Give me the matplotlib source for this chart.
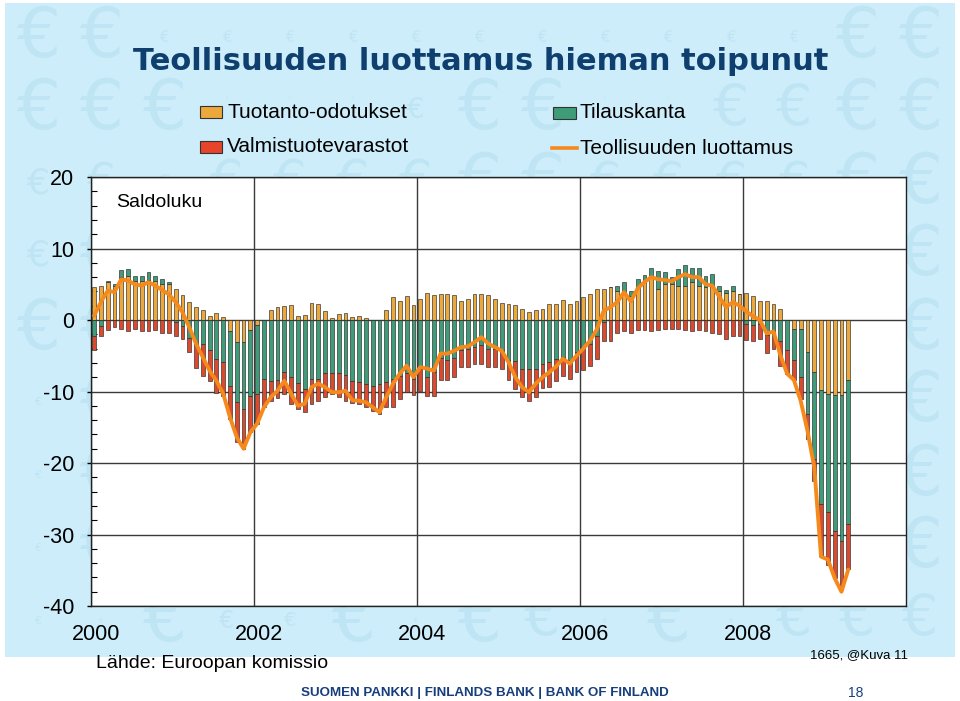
import numpy as np
import matplotlib
matplotlib.use('Agg')
import matplotlib.pyplot as plt
from matplotlib.patches import Rectangle
from matplotlib.lines import Line2D
from matplotlib.transforms import ScaledTranslation

# ---------------- data (monthly, Jan 2000 .. Apr 2009) ----------------
months = np.arange(112)

production = [4.6, 4.7, 5.3, 4.8, 6.0, 6.1, 5.4, 5.5, 5.6, 5.5, 5.0, 5.0,
              4.3, 3.5, 2.5, 1.8, 1.4, 0.6, 1.0, 0.4, -1.6, -3.1, -3.1, -1.4,
              -0.7, 0.0, 1.4, 1.8, 2.0, 2.1, 0.6, 0.7, 2.4, 2.3, 1.3, 0.3,
              0.8, 1.0, 0.4, 0.5, 0.3, 0.0, 0.0, 1.4, 3.2, 2.7, 3.3, 2.1,
              3.0, 3.8, 3.5, 3.7, 3.7, 3.5, 2.7, 2.9, 3.7, 3.6, 3.5, 2.9,
              2.4, 2.3, 2.1, 1.5, 1.1, 1.4, 1.6, 2.2, 2.3, 2.8, 2.2, 2.7,
              3.2, 3.6, 4.3, 4.3, 4.6, 4.1, 4.1, 3.4, 4.6, 5.3, 6.0, 4.3,
              5.1, 5.0, 4.8, 4.8, 5.3, 4.8, 4.6, 4.8, 4.0, 3.8, 4.1, 3.6,
              3.8, 3.3, 2.6, 2.6, 2.3, 1.5, 0.0, -1.2, -1.3, -4.5, -7.3, -9.8,
              -10.3, -10.5, -10.5, -8.4]

order_books = [-2.2, -0.8, 0.2, 0.2, 1.0, 1.0, 0.7, 0.7, 1.1, 0.6, 0.8, 0.3,
               -0.3, -0.8, -2.5, -3.4, -3.4, -4.2, -5.5, -5.9, -7.7, -8.4, -9.3, -9.2,
               -9.7, -8.3, -8.5, -8.4, -7.3, -8.0, -8.8, -9.7, -8.3, -8.2, -7.4, -7.4,
               -7.4, -7.7, -8.5, -8.7, -9.0, -9.2, -9.0, -8.7, -8.2, -7.8, -7.4, -8.3,
               -6.8, -8.0, -7.3, -5.3, -5.6, -5.3, -4.2, -4.1, -3.8, -3.5, -4.0, -4.1,
               -4.2, -5.6, -5.7, -6.8, -6.8, -6.9, -6.1, -5.9, -5.4, -5.2, -5.6, -4.5,
               -3.8, -3.4, -2.2, -0.3, 0.0, 0.7, 1.2, 0.7, 1.1, 1.0, 1.3, 2.6,
               1.6, 1.0, 2.3, 2.9, 2.0, 2.5, 1.6, 1.6, 0.8, 0.4, 0.7, 0.0,
               -0.5, -0.7, -0.5, -2.1, -1.4, -3.0, -4.2, -4.4, -6.7, -8.7, -12.2, -15.9,
               -16.6, -19.0, -20.4, -20.1]

stocks = [-2.0, -1.5, -1.4, -1.0, -1.3, -1.6, -1.2, -1.5, -1.6, -1.4, -1.8, -1.8,
          -2.0, -1.8, -2.0, -3.3, -4.4, -4.3, -4.7, -4.7, -4.5, -5.6, -5.6, -5.1,
          -4.1, -3.9, -2.8, -2.5, -3.0, -3.7, -3.6, -3.2, -3.4, -3.1, -3.4, -2.9,
          -3.4, -3.6, -3.1, -3.0, -3.1, -3.5, -4.2, -3.5, -3.9, -3.3, -2.6, -2.2,
          -3.1, -2.6, -3.3, -3.1, -2.8, -2.7, -2.4, -2.5, -2.3, -2.6, -2.6, -2.5,
          -2.6, -2.8, -3.9, -3.9, -4.5, -3.8, -3.4, -3.5, -3.1, -2.6, -2.6, -2.8,
          -3.2, -3.0, -3.2, -2.6, -2.9, -1.8, -1.6, -1.8, -1.4, -1.4, -1.5, -1.4,
          -1.2, -1.2, -1.2, -1.4, -1.5, -1.4, -1.6, -1.8, -1.9, -2.6, -2.2, -2.2,
          -2.3, -2.3, -2.1, -2.5, -2.7, -3.4, -3.4, -2.8, -3.0, -3.5, -3.0, -7.3,
          -7.3, -6.6, -6.8, -6.3]

confidence = [0.6, 2.5, 4.1, 3.9, 5.7, 5.5, 5.0, 4.8, 5.3, 4.8, 4.2, 3.6,
              2.5, 1.1, -1.0, -3.3, -5.2, -7.1, -8.5, -10.3, -13.6, -16.4, -18.0, -15.7,
              -14.5, -12.2, -10.8, -9.9, -8.5, -10.3, -12.0, -11.7, -9.4, -8.9, -9.4, -10.1,
              -10.1, -9.9, -11.2, -11.3, -11.5, -12.2, -12.9, -10.8, -8.9, -7.5, -6.4, -8.0,
              -6.6, -6.8, -7.1, -4.7, -4.7, -4.3, -3.8, -3.7, -3.1, -2.4, -3.3, -3.8,
              -4.3, -5.9, -8.0, -9.4, -10.1, -8.9, -8.0, -7.3, -6.5, -5.4, -6.1, -5.0,
              -4.0, -2.9, -1.3, 1.3, 1.8, 2.5, 3.9, 2.6, 4.4, 5.3, 6.0, 5.7,
              5.6, 5.4, 6.0, 6.4, 6.0, 6.0, 5.0, 4.8, 3.3, 1.8, 2.5, 2.0,
              1.2, 0.5, 0.0, -1.9, -1.6, -4.9, -7.5, -8.4, -11.3, -15.5, -20.6, -33.1,
              -33.5, -36.1, -38.0, -34.9]

year_labels = ['2000', '2002', '2004', '2006', '2008']
year_ticks = [0, 24, 48, 72, 96]
series_names = ['Tuotanto-odotukset', 'Valmistuotevarastot', 'Tilauskanta',
                'Teollisuuden luottamus']
title = 'Teollisuuden luottamus hieman toipunut'

# ---------------- style ----------------
plt.rcParams['font.family'] = ['Liberation Sans', 'DejaVu Sans']
plt.rcParams['axes.unicode_minus'] = False
C_ORANGE = '#EDA83C'
C_GREEN = '#3E9C79'
C_RED = '#DC4A2E'
C_LINE = '#F5891C'
C_BG = '#CCEDF9'
C_EURO = '#BFE5F5'
C_NAVY = '#0E3F6E'

W, H = 960, 701
fig = plt.figure(figsize=(9.6, 7.01), dpi=100)
fig.patch.set_facecolor('white')


def fx(x):
    return x / W


def fy(y):
    return 1 - y / H


# slide background
bg = Rectangle((fx(5), fy(657)), fx(955) - fx(5), fy(3) - fy(657),
               transform=fig.transFigure, facecolor=C_BG, edgecolor='none', zorder=-10)
fig.add_artist(bg)

# ---------------- axes ----------------
ax = fig.add_axes([fx(90.7), fy(606), fx(906) - fx(90.7), fy(177) - fy(606)])
ax.set_facecolor('white')

x = months + 0.5
pos = np.zeros(len(months))
neg = np.zeros(len(months))
for vals, col in [(production, C_ORANGE), (order_books, C_GREEN), (stocks, C_RED)]:
    v = np.array(vals, dtype=float)
    bottom = np.where(v >= 0, pos, neg)
    ax.bar(x, v, bottom=bottom, width=0.56, color=col, edgecolor='#2a2a2a',
           linewidth=0.45, zorder=2)
    pos += np.clip(v, 0, None)
    neg += np.clip(v, None, 0)

ax.plot(x, confidence, color=C_LINE, lw=2.8, zorder=3, solid_joinstyle='round',
        solid_capstyle='round')

ax.set_xlim(0, 120)
ax.set_ylim(-40, 20)
ax.set_yticks(np.arange(-40, 21, 10))
ax.set_yticks(np.arange(-40, 21, 2), minor=True)
ax.set_xticks(year_ticks, labels=year_labels)
ax.grid(True, which='major', color='#3a3a3a', lw=1.0)
ax.set_axisbelow(True)
ax.tick_params(axis='x', length=0, pad=13, labelsize=15.5)
ax.tick_params(axis='y', which='major', direction='out', length=3, pad=9,
               labelsize=15.5, width=1)
ax.tick_params(axis='y', which='minor', direction='in', length=4, width=0.8)
for s in ax.spines.values():
    s.set_color('#222222')
    s.set_linewidth(1.0)
for lbl in ax.get_xticklabels():
    lbl.set_transform(lbl.get_transform() + ScaledTranslation(5 / 100, 0, fig.dpi_scale_trans))

ax.text(fx(116), fy(203), 'Saldoluku', transform=fig.transFigure, fontsize=14,
        va='center', ha='left', zorder=5)

# ---------------- legend ----------------
def legend_box(x0, y0, x1, y1, col):
    fig.add_artist(Rectangle((fx(x0), fy(y1)), fx(x1) - fx(x0), fy(y0) - fy(y1),
                             transform=fig.transFigure, facecolor=col,
                             edgecolor='#333333', linewidth=0.8))

legend_box(200, 106, 222, 118, C_ORANGE)
fig.text(fx(227), fy(112), series_names[0], fontsize=15, va='center', ha='left')
legend_box(200, 141, 222, 153, '#E8442A')
fig.text(fx(227), fy(147), series_names[1], fontsize=15, va='center', ha='left')
legend_box(553, 107, 576, 119, C_GREEN)
fig.text(fx(580), fy(113), series_names[2], fontsize=15, va='center', ha='left')
fig.add_artist(Line2D([fx(552), fx(577)], [fy(148), fy(148)], transform=fig.transFigure,
                      color=C_LINE, lw=2.6))
fig.text(fx(580), fy(148), series_names[3], fontsize=15, va='center', ha='left')

# ---------------- titles / footers ----------------
ttl = fig.text(fx(481), fy(61), title, ha='center', va='center', fontweight='bold',
               color=C_NAVY, family='DejaVu Sans', fontsize=24)

fig.text(fx(96), fy(664), 'Lähde: Euroopan komissio', fontsize=14, va='center', ha='left')
fig.text(fx(908), fy(655), '1665, @Kuva 11', fontsize=9.5, va='center', ha='right')

foot = fig.text(fx(485), fy(693), 'SUOMEN PANKKI | FINLANDS BANK | BANK OF FINLAND',
                ha='center', va='center', fontweight='bold', color='#173E7C',
                family='Liberation Sans', fontsize=11)
fig.text(fx(856), fy(693), '18', fontsize=10, ha='center', va='center', color='#173E7C')

# fit widths of title and footer
fig.canvas.draw()
rend = fig.canvas.get_renderer()
for t, target in [(ttl, 697), (foot, 369)]:
    w = t.get_window_extent(rend).width
    t.set_fontsize(t.get_fontsize() * target / w)
fig.canvas.draw()

# faint euro watermark of the slide background; a euro that would sit under
# another text is shrunk (and nudged upward if needed) until it is clear
other_boxes = [t.get_window_extent(rend) for t in fig.texts]
other_boxes += [t.get_window_extent(rend) for t in ax.get_xticklabels() + ax.get_yticklabels()]
other_boxes += [t.get_window_extent(rend) for t in ax.texts]


def collides(t):
    bb = t.get_window_extent(rend)
    return any(bb.overlaps(o) for o in other_boxes)


for r in range(9):
    for c in range(15):
        px, py = 38 + 63 * c, 37 + 73 * r
        t = fig.text(fx(px), fy(py), '€', fontsize=50, color=C_EURO, ha='center',
                     va='center', family='DejaVu Sans', zorder=-9)
        t.set_clip_path(bg)
        size = 50
        while size > 3 and collides(t):
            size -= 3
            t.set_fontsize(size)
        shift = 0
        while collides(t) and shift < 40:
            shift += 4
            t.set_position((fx(px), fy(py - shift)))

fig.savefig('out.png', dpi=100, facecolor=fig.get_facecolor())
